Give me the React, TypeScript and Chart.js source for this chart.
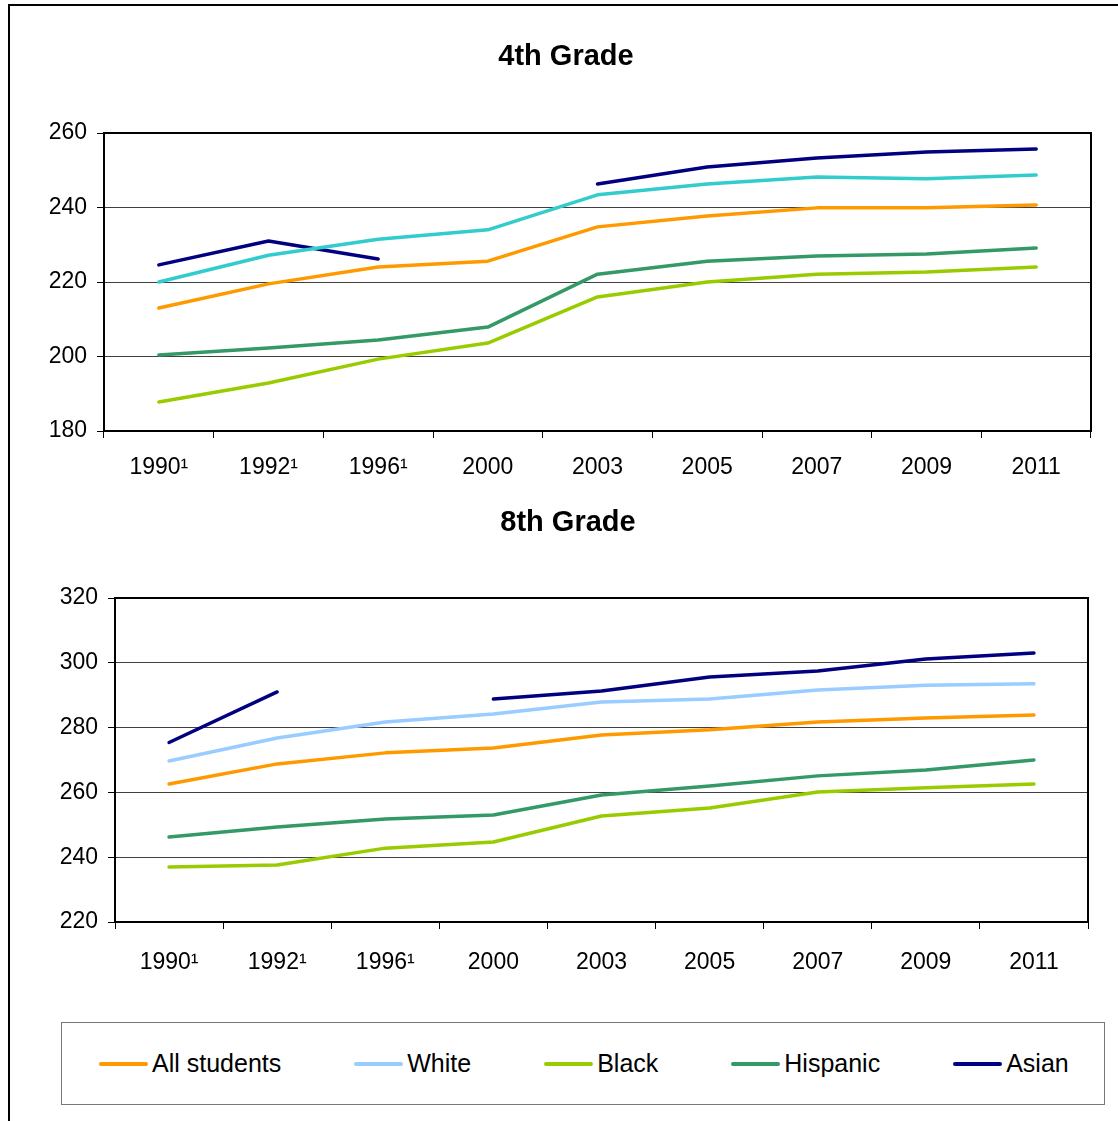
import React, { useEffect, useRef } from 'react';
import { Chart, registerables } from 'chart.js';
Chart.register(...registerables);

// Years on the x axis (¹ marks the footnoted years)
const categories = ['1990¹', '1992¹', '1996¹', '2000', '2003', '2005', '2007', '2009', '2011'];
const seriesNames = ['All students', 'White', 'Black', 'Hispanic', 'Asian'];

// 4th grade scores
const g4All = [213, 219.5, 224, 225.6, 234.8, 237.7, 239.9, 239.9, 240.7];
const g4White = [220, 227.2, 231.5, 234, 243.4, 246.3, 248.2, 247.7, 248.7];
const g4Black = [187.8, 192.9, 199.3, 203.6, 216, 220, 222.1, 222.7, 224];
const g4Hispanic = [200.4, 202.3, 204.4, 207.9, 222.1, 225.6, 227, 227.5, 229.1];
const g4Asian = [224.6, 231, 226.2, null, 246.3, 250.9, 253.3, 254.9, 255.7];

// 8th grade scores
const g8All = [262.6, 268.8, 272.2, 273.7, 277.7, 279.3, 281.7, 283, 283.9];
const g8White = [269.7, 276.8, 281.7, 284.2, 287.9, 288.8, 291.6, 293.1, 293.5];
const g8Black = [237, 237.6, 242.8, 244.7, 252.7, 255.2, 260.1, 261.4, 262.6];
const g8Hispanic = [246.2, 249.3, 251.8, 253, 259.2, 262, 265.1, 266.9, 270];
const g8Asian = [275.4, 291, null, 288.8, 291.3, 295.6, 297.5, 301.2, 303];

const colorsG4 = ['#FF9900', '#33CCCC', '#99CC00', '#339966', '#000080'];
const colorsG8 = ['#FF9900', '#99CCFF', '#99CC00', '#339966', '#000080'];

const FONT = "'Liberation Sans', Arial, sans-serif";

// draws the top/right frame of the plot area
const plotBorder = {
  id: 'plotBorder',
  beforeDatasetsDraw(chart: any) {
    const { ctx, chartArea } = chart;
    ctx.save();
    ctx.strokeStyle = '#000';
    ctx.lineWidth = 2;
    ctx.strokeRect(chartArea.left, chartArea.top, chartArea.right - chartArea.left, chartArea.bottom - chartArea.top);
    ctx.restore();
  },
};

type GradeProps = {
  title: string;
  series: (number | null)[][];
  colors: string[];
  yMin: number;
  yMax: number;
  yWidth: number;
  xHeight: number;
  titleTop: number;
  titleBottom: number;
  padLeft: number;
  padRight: number;
  xPad: number;
  top: number;
  height: number;
};

function GradeChart(props: GradeProps) {
  const canvasRef = useRef<HTMLCanvasElement>(null);
  const chartRef = useRef<Chart | null>(null);

  useEffect(() => {
    if (!canvasRef.current) return;
    if (chartRef.current) chartRef.current.destroy();

    chartRef.current = new Chart(canvasRef.current, {
      type: 'line',
      data: {
        labels: categories,
        datasets: props.series.map((data, i) => ({
          label: seriesNames[i],
          data,
          borderColor: props.colors[i],
          backgroundColor: props.colors[i],
          borderWidth: 3.5,
          borderCapStyle: 'round',
          borderJoinStyle: 'round',
          pointRadius: 0,
          tension: 0,
          spanGaps: false,
        })),
      },
      options: {
        animation: false,
        responsive: true,
        maintainAspectRatio: false,
        layout: { padding: { left: props.padLeft, right: props.padRight, top: 0, bottom: 0 } },
        plugins: {
          legend: { display: false },
          tooltip: { enabled: false },
          title: {
            display: true,
            text: props.title,
            color: '#000',
            font: { family: FONT, size: 29, weight: 'bold' },
            padding: { top: props.titleTop, bottom: props.titleBottom },
          },
        },
        scales: {
          x: {
            type: 'category',
            offset: true,
            afterFit: (scale: any) => { scale.height = props.xHeight; },
            grid: { display: true, drawOnChartArea: false, offset: true, tickLength: 7, color: '#000' },
            border: { color: '#000', width: 2 },
            ticks: { color: '#000', padding: props.xPad, maxRotation: 0, font: { family: FONT, size: 23 } },
          },
          y: {
            min: props.yMin,
            max: props.yMax,
            afterFit: (scale: any) => { scale.width = props.yWidth; },
            grid: { color: '#404040', lineWidth: 1, tickLength: 7, tickColor: '#000' },
            border: { color: '#000', width: 2 },
            ticks: { color: '#000', stepSize: 20, padding: 10, font: { family: FONT, size: 23 } },
          },
        },
      },
      plugins: [plotBorder],
    } as any);

    return () => {
      if (chartRef.current) {
        chartRef.current.destroy();
        chartRef.current = null;
      }
    };
  }, []);

  return (
    <div style={{ position: 'absolute', left: 0, top: props.top, width: 1100, height: props.height }}>
      <canvas ref={canvasRef}></canvas>
    </div>
  );
}

function Legend() {
  return (
    <div
      style={{
        position: 'absolute',
        left: 51,
        top: 1016,
        width: 1044,
        height: 83,
        boxSizing: 'border-box',
        border: '1px solid #777',
        display: 'flex',
        alignItems: 'center',
        paddingLeft: 37,
        gap: 73,
        fontFamily: FONT,
        fontSize: 25,
        color: '#000',
      }}
    >
      {seriesNames.map((name, i) => (
        <div key={name} style={{ display: 'flex', alignItems: 'center' }}>
          <span style={{ display: 'inline-block', width: 49, height: 4, borderRadius: 2, background: colorsG8[i], marginRight: 4 }}></span>
          <span>{name}</span>
        </div>
      ))}
    </div>
  );
}

export default function App() {
  return (
    <div
      style={{
        position: 'absolute',
        left: 8,
        top: 4,
        width: 1110,
        height: 1117,
        boxSizing: 'border-box',
        borderLeft: '2px solid #000',
        borderTop: '2px solid #000',
        background: '#fff',
      }}
    >
      <GradeChart
        title="4th Grade"
        series={[g4All, g4White, g4Black, g4Hispanic, g4Asian]}
        colors={colorsG4}
        yMin={180}
        yMax={260}
        yWidth={63}
        xHeight={59}
        titleTop={29.6}
        titleBottom={58.6}
        padLeft={31}
        padRight={19}
        xPad={16}
        top={4}
        height={480}
      />
      <GradeChart
        title="8th Grade"
        series={[g8All, g8White, g8Black, g8Hispanic, g8Asian]}
        colors={colorsG8}
        yMin={220}
        yMax={320}
        yWidth={67}
        xHeight={68}
        titleTop={15.6}
        titleBottom={57.6}
        padLeft={38}
        padRight={22}
        xPad={20}
        top={484}
        height={500}
      />
      <Legend />
    </div>
  );
}
